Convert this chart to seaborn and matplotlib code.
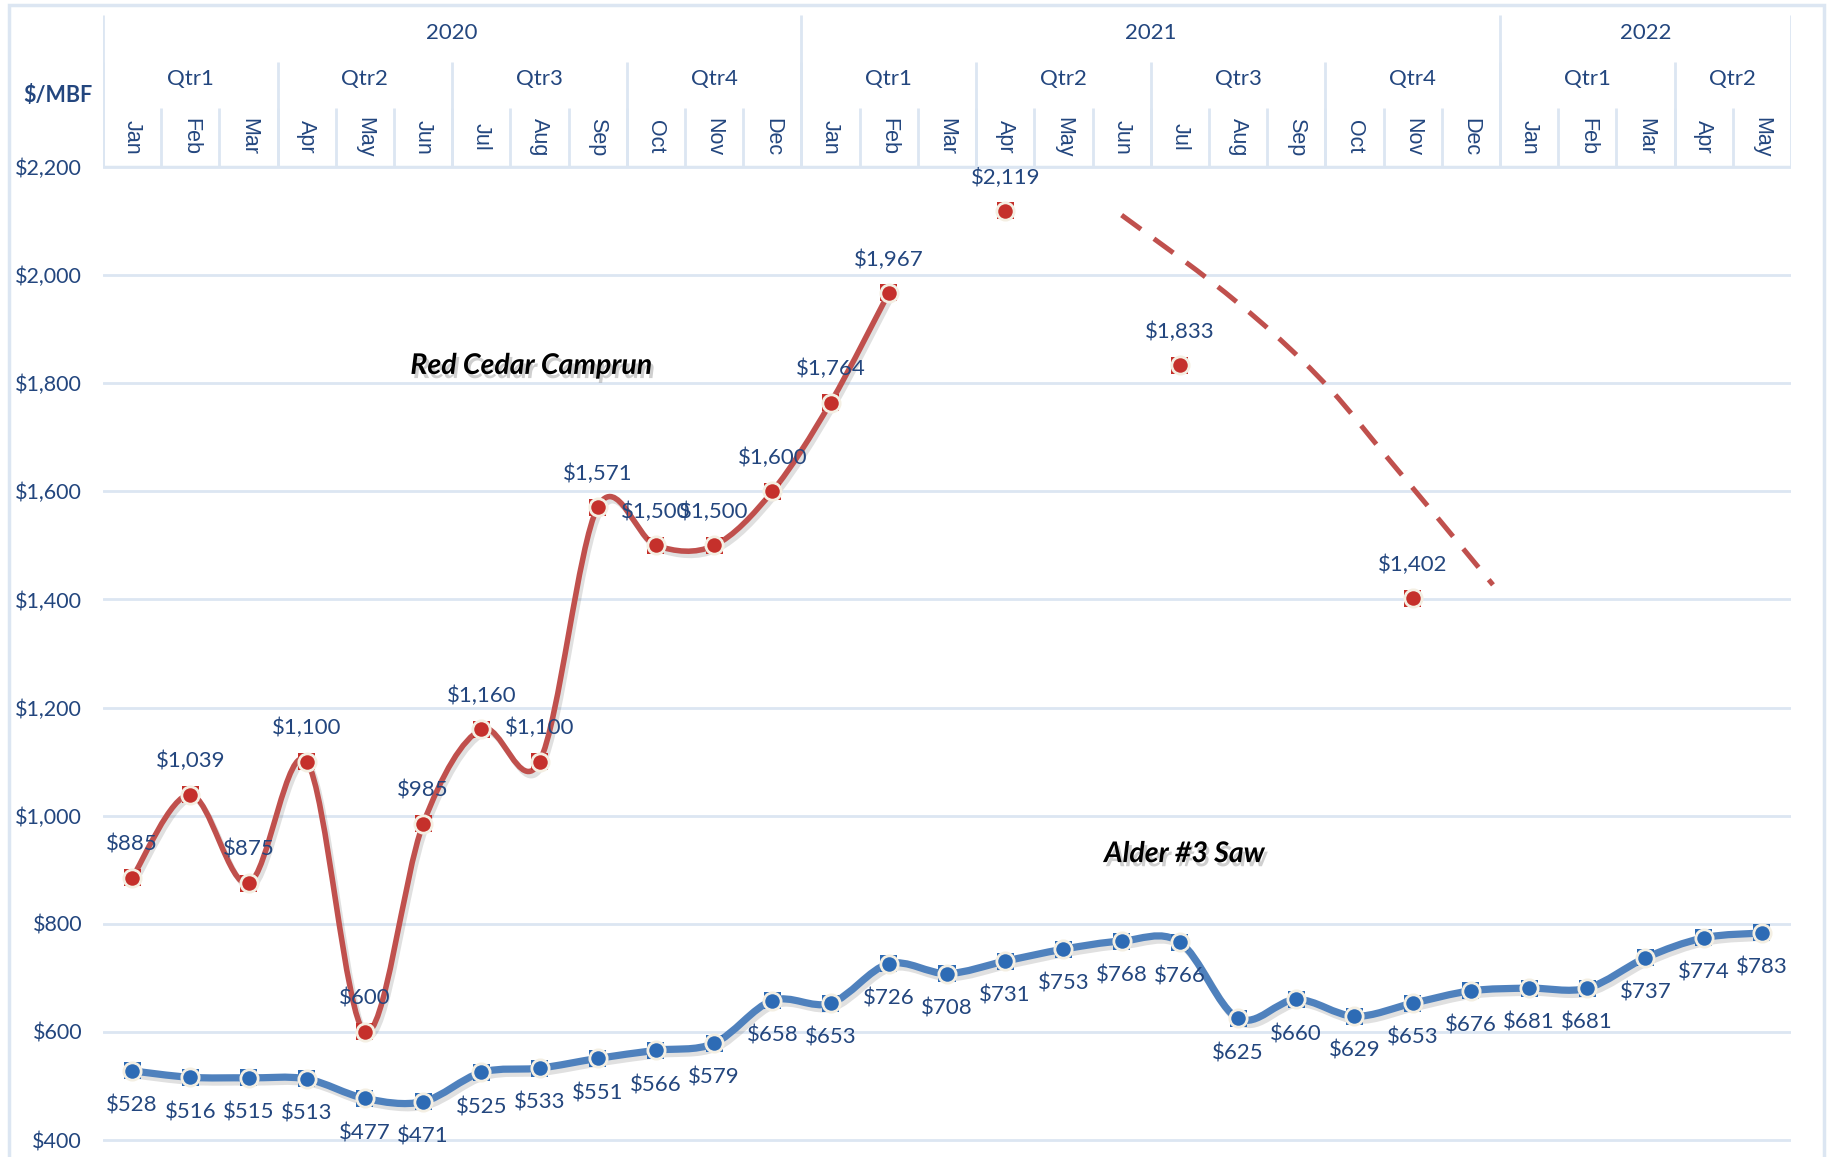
import numpy as np
import matplotlib
matplotlib.use('Agg')
import matplotlib.pyplot as plt
import matplotlib.patheffects as pe
from matplotlib.path import Path
from matplotlib.patches import PathPatch, Rectangle
from matplotlib.ticker import FuncFormatter
import pandas as pd
import seaborn as sns

# --- data (index 0 = Jan 2020) ---
month_labels = ['Jan', 'Feb', 'Mar', 'Apr', 'May', 'Jun', 'Jul', 'Aug', 'Sep', 'Oct', 'Nov', 'Dec',
                'Jan', 'Feb', 'Mar', 'Apr', 'May', 'Jun', 'Jul', 'Aug', 'Sep', 'Oct', 'Nov', 'Dec',
                'Jan', 'Feb', 'Mar', 'Apr', 'May']
year_labels = ['2020', '2021', '2022']
year_months = [12, 12, 5]
quarter_labels = ['Qtr1', 'Qtr2', 'Qtr3', 'Qtr4', 'Qtr1', 'Qtr2', 'Qtr3', 'Qtr4', 'Qtr1', 'Qtr2']
quarter_months = [3, 3, 3, 3, 3, 3, 3, 3, 3, 2]

nan = np.nan
red_cedar = [885, 1039, 875, 1100, 600, 985, 1160, 1100, 1571, 1500, 1500, 1600, 1764, 1967,
             nan, 2119, nan, nan, 1833, nan, nan, nan, 1402, nan, nan, nan, nan, nan, nan]
alder = [528, 516, 515, 513, 477, 471, 525, 533, 551, 566, 579, 658, 653, 726, 708,
         731, 753, 768, 766, 625, 660, 629, 653, 676, 681, 681, 737, 774, 783]

# dashed trend curve
trend_x = [17.0, 18.47, 19.6, 20.6, 21.53, 22.46, 23.38]
trend_y = [2111, 1994, 1893, 1787, 1667, 1547, 1427]

y_ticks = [400, 600, 800, 1000, 1200, 1400, 1600, 1800, 2000, 2200]

RED_LINE = '#C0504D'
RED_MARK = '#C5302B'
BLUE_LINE = '#4F81BD'
BLUE_MARK = '#2D6BB5'
TXT = '#23467E'
GRID = '#DCE6F2'
RING = '#F4EFE3'

sns.set_theme(style='white')
plt.rcParams['font.family'] = ['Lato', 'DejaVu Sans']


def smooth_path(xs, ys):
    """Excel-like smoothed line as cubic Bezier (Catmull-Rom control points)"""
    pts = np.column_stack([xs, ys]).astype(float)
    n = len(pts)
    verts = [pts[0]]
    codes = [Path.MOVETO]
    for i in range(n - 1):
        p0 = pts[i - 1] if i > 0 else pts[i]
        p1, p2 = pts[i], pts[i + 1]
        p3 = pts[i + 2] if i + 2 < n else pts[i + 1]
        verts += [p1 + (p2 - p0) / 6, p2 - (p3 - p1) / 6, p2]
        codes += [Path.CURVE4] * 3
    return Path(verts, codes)


def runs(values):
    """split a series into consecutive non-missing runs"""
    out, cur = [], []
    for i, v in enumerate(values):
        if np.isnan(v):
            if cur:
                out.append(cur)
            cur = []
        else:
            cur.append(i)
    if cur:
        out.append(cur)
    return out


W, H = 1829, 1157
fig = plt.figure(figsize=(W / 100, H / 100), dpi=100)
x0, x1 = 103, 1791
top_plot = 167
ax = fig.add_axes([x0 / W, 0, (x1 - x0) / W, (H - top_plot) / H])
hx = fig.add_axes([x0 / W, (H - top_plot) / H, (x1 - x0) / W, (top_plot - 15) / H])

n = len(month_labels)
idx = np.arange(n)
df = pd.DataFrame({'idx': idx, 'red': red_cedar, 'alder': alder})

# gridlines
for t in y_ticks:
    ax.axhline(t, color=GRID, lw=2, zorder=0)

# smoothed lines
shadow = [pe.SimpleLineShadow(offset=(2, -3), alpha=0.18, shadow_color='#555555'), pe.Normal()]
for series, col, lw in [(red_cedar, RED_LINE, 4.0), (alder, BLUE_LINE, 5.2)]:
    for r in runs(series):
        if len(r) < 2:
            continue
        p = smooth_path(np.array(r), np.array(series)[r])
        ax.add_patch(PathPatch(p, fill=False, edgecolor=col, lw=lw, capstyle='round',
                               joinstyle='round', zorder=2, path_effects=shadow))

# dashed trend curve
ax.add_patch(PathPatch(smooth_path(np.array(trend_x), np.array(trend_y)), fill=False,
                       edgecolor=RED_LINE, lw=3.6, linestyle=(0, (4.8, 3.2)), zorder=2))

# markers: square behind, ringed circle on top
for col_name, mcol in [('red', RED_MARK), ('alder', BLUE_MARK)]:
    sns.scatterplot(data=df, x='idx', y=col_name, marker='s', s=150, color=mcol,
                    edgecolor='none', ax=ax, zorder=3, legend=False)
    sns.scatterplot(data=df, x='idx', y=col_name, marker='o', s=155, color=mcol,
                    edgecolor=RING, linewidth=2.0, ax=ax, zorder=4, legend=False)

# data labels
for i, v in enumerate(red_cedar):
    if not np.isnan(v):
        ax.annotate(f'${v:,.0f}', (i, v), xytext=(0, 24), textcoords='offset points',
                    ha='center', va='center', fontsize=16, color=TXT, zorder=5)
for i, v in enumerate(alder):
    ax.annotate(f'${v:,.0f}', (i, v), xytext=(0, -25), textcoords='offset points',
                ha='center', va='center', fontsize=16, color=TXT, zorder=5)

# series titles
tshadow = [pe.withSimplePatchShadow(offset=(2, -3), shadow_rgbFace='#777777', alpha=0.35)]
ax.text(6.86, 1832, 'Red Cedar Camprun', ha='center', va='center', fontsize=20.5,
        fontweight='bold', fontstyle='italic', color='black', path_effects=tshadow, zorder=5)
ax.text(18.08, 929, 'Alder #3 Saw', ha='center', va='center', fontsize=20.5,
        fontweight='bold', fontstyle='italic', color='black', path_effects=tshadow, zorder=5)

ax.set_xlim(-0.5, n - 0.5)
ax.set_ylim(368.6, 2200)
ax.set_yticks(y_ticks)
ax.yaxis.set_major_formatter(FuncFormatter(lambda v, _: f'${v:,.0f}'))
ax.tick_params(axis='y', length=0, pad=15, labelsize=15.5, labelcolor=TXT)
ax.set_xticks([])
ax.set_xlabel('')
ax.set_ylabel('')
for s in ax.spines.values():
    s.set_visible(False)

# --- header: year / quarter / month rows ---
hx.set_xlim(-0.5, n - 0.5)
hx.set_ylim(152, 0)
hx.axis('off')
hx.axhline(152, color=GRID, lw=2.5)
for i in range(1, n):
    hx.vlines(i - 0.5, 93, 152, color=GRID, lw=2)
start = 0
for lab, m in zip(quarter_labels, quarter_months):
    hx.vlines(start - 0.5, 47, 152, color=GRID, lw=2)
    hx.text(start + (m - 1) / 2, 64, lab, ha='center', va='center', fontsize=16, color=TXT)
    start += m
start = 0
for lab, m in zip(year_labels, year_months):
    hx.vlines(start - 0.5, 0, 152, color=GRID, lw=2)
    hx.text(start + (m - 1) / 2, 18, lab, ha='center', va='center', fontsize=16, color=TXT)
    start += m
hx.vlines(n - 0.5, 0, 152, color=GRID, lw=2)
for i, lab in enumerate(month_labels):
    hx.text(i, 122, lab, ha='center', va='center', rotation=270, fontsize=15.5,
            color=TXT, family=['Liberation Sans', 'DejaVu Sans'])

fig.text(58 / W, 1 - 96 / H, '$/MBF', ha='center', va='center', fontsize=15.5,
         fontweight='bold', color=TXT)

# outer chart frame
fig.patches.append(Rectangle((9 / W, -0.01), (1824 - 9) / W, (H - 5) / H + 0.01,
                             transform=fig.transFigure, fill=False, edgecolor=GRID, lw=2.5))

fig.savefig('out.png', dpi=100, facecolor='white')
